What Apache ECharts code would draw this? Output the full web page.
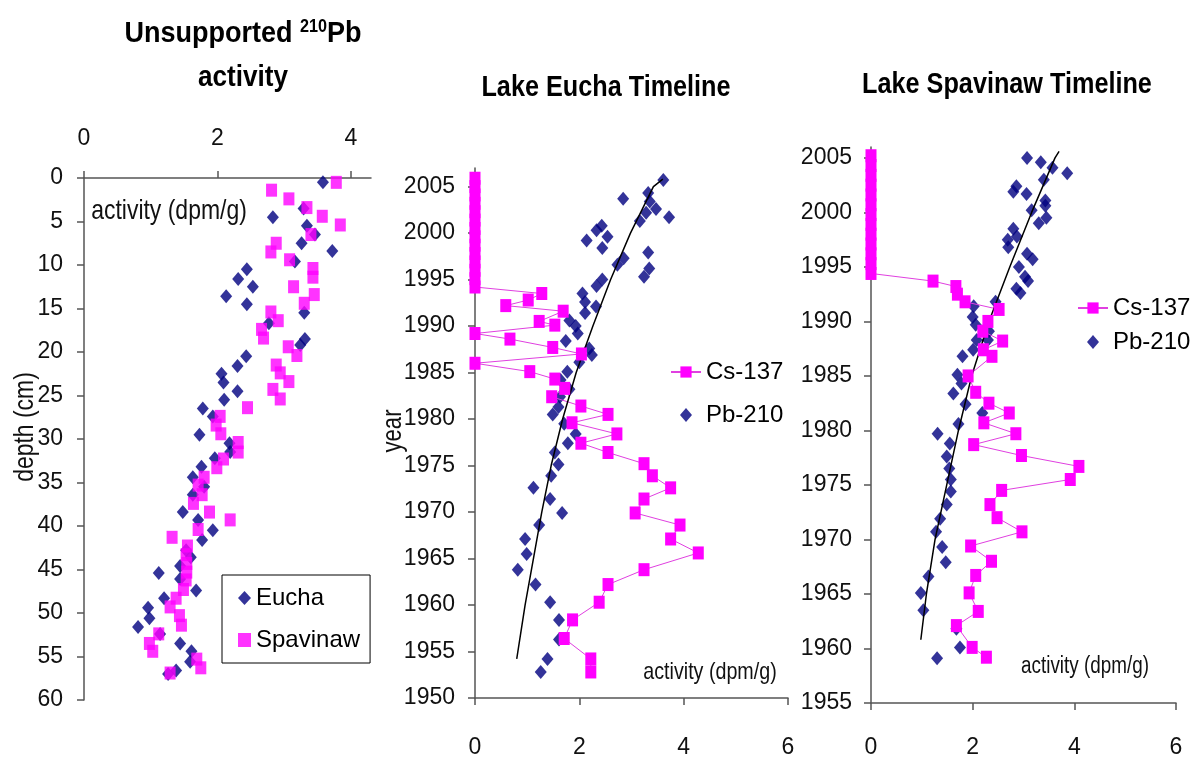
<!DOCTYPE html>
<html>
<head>
<meta charset="utf-8">
<title>Lake Eucha / Lake Spavinaw timelines</title>
<script src="https://cdn.jsdelivr.net/npm/echarts@6/dist/echarts.min.js"></script>
<style>
  html, body { margin: 0; padding: 0; background: #fff; }
  #chart { width: 1190px; height: 759px; }
</style>
</head>
<body>
<div id="chart"></div>
<script>
// panel 1: unsupported 210Pb activity (dpm/g) vs depth (cm)
const euchaDepth = [[3.58,0.5],[3.29,3.5],[2.83,4.5],[3.34,5.5],[3.46,6.5],[3.26,7.5],[3.72,8.4],[3.16,9.6],[2.44,10.5],[2.31,11.6],[2.53,12.5],[2.13,13.6],[2.44,14.5],[3.30,15.5],[2.77,16.7],[3.31,18.5],[3.24,19.2],[2.43,20.5],[2.30,21.6],[2.06,22.5],[2.09,23.5],[2.30,24.5],[2.10,25.5],[1.78,26.5],[1.93,27.4],[1.73,29.5],[2.18,30.5],[2.19,31.5],[1.96,32.2],[1.76,33.2],[1.63,34.4],[1.80,35.5],[1.63,36.4],[1.48,38.4],[1.71,39.3],[1.93,40.5],[1.77,41.6],[1.53,42.8],[1.60,43.6],[1.44,44.6],[1.12,45.4],[1.44,46.1],[1.68,47.4],[1.20,48.3],[0.96,49.4],[0.98,50.6],[0.81,51.6],[1.14,52.4],[1.44,53.5],[1.61,54.4],[1.59,55.6],[1.38,56.6],[1.26,57.0]];
const spavinawDepth = [[3.78,0.5],[2.81,1.4],[3.07,2.4],[3.34,3.4],[3.57,4.4],[3.84,5.4],[3.40,6.5],[2.88,7.5],[2.80,8.5],[3.08,9.4],[3.43,10.4],[3.43,11.4],[3.14,12.5],[3.45,13.4],[3.30,14.4],[2.80,15.4],[2.91,16.4],[2.66,17.4],[2.69,18.4],[3.06,19.4],[3.19,20.4],[2.88,21.5],[2.94,22.4],[3.07,23.4],[2.83,24.3],[2.94,25.4],[2.45,26.4],[2.04,27.4],[1.98,28.4],[2.05,29.4],[2.31,30.4],[2.31,31.5],[2.09,32.3],[1.99,33.3],[1.80,34.4],[1.71,35.3],[1.77,36.4],[1.64,37.4],[1.88,38.4],[2.19,39.3],[1.71,40.4],[1.32,41.3],[1.55,42.3],[1.53,43.3],[1.54,44.3],[1.54,45.3],[1.53,46.2],[1.49,47.3],[1.38,48.3],[1.29,49.3],[1.43,50.3],[1.46,51.4],[1.12,52.4],[0.98,53.5],[1.03,54.4],[1.69,55.3],[1.75,56.3],[1.29,56.9]];

// panel 2: Lake Eucha, [activity, year]
const euchaCs = [[0,2005.9],[0,2005.0],[0,2004.1],[0,2003.2],[0,2002.3],[0,2001.4],[0,2000.5],[0,1999.6],[0,1998.7],[0,1997.8],[0,1996.9],[0,1996.0],[0,1995.1],[0,1994.2],[1.28,1993.5],[1.02,1992.8],[0.59,1992.2],[1.69,1991.6],[1.23,1990.5],[1.53,1990.1],[0,1989.2],[0.67,1988.6],[1.49,1987.7],[2.04,1987.0],[0,1986.0],[1.05,1985.1],[1.53,1984.3],[1.72,1983.3],[1.47,1982.4],[2.03,1981.4],[2.55,1980.5],[1.86,1979.6],[2.72,1978.4],[2.03,1977.4],[2.55,1976.4],[3.24,1975.2],[3.40,1973.9],[3.75,1972.6],[3.24,1971.4],[3.07,1969.9],[3.93,1968.6],[3.75,1967.1],[4.28,1965.6],[3.24,1963.8],[2.55,1962.2],[2.38,1960.3],[1.87,1958.4],[1.71,1956.4],[2.22,1954.2],[2.22,1952.8]];
const euchaPb = [[3.61,2005.7],[3.32,2004.3],[2.84,2003.7],[3.35,2003.4],[3.47,2002.6],[3.28,2002.2],[3.72,2001.7],[3.16,2001.3],[2.43,2000.8],[2.33,2000.3],[2.54,1999.6],[2.14,1999.2],[2.44,1998.4],[3.32,1997.9],[2.85,1997.3],[2.73,1996.6],[3.34,1996.2],[3.24,1995.3],[2.44,1995.0],[2.33,1994.3],[2.06,1993.5],[2.11,1992.6],[2.32,1992.1],[2.11,1991.4],[1.81,1990.6],[1.93,1990.0],[1.97,1989.2],[1.74,1988.4],[2.19,1987.6],[2.24,1986.9],[2.00,1986.1],[1.77,1985.1],[1.64,1984.2],[1.81,1983.2],[1.63,1982.4],[1.60,1981.3],[1.49,1980.5],[1.71,1979.5],[1.93,1978.4],[1.78,1977.4],[1.53,1976.4],[1.60,1975.1],[1.46,1973.9],[1.12,1972.6],[1.44,1971.4],[1.67,1969.9],[1.23,1968.6],[0.96,1967.1],[0.99,1965.5],[0.82,1963.8],[1.16,1962.2],[1.44,1960.3],[1.61,1958.4],[1.61,1956.3],[1.39,1954.2],[1.26,1952.8]];
const euchaFit = [[0.80,1954.2],[0.96,1960],[1.12,1965],[1.28,1970],[1.46,1975],[1.68,1980],[1.94,1985],[2.26,1990],[2.60,1995],[2.98,2000],[3.42,2005],[3.60,2005.8]];

// panel 3: Lake Spavinaw, [activity, year]
const spavinawCs = [[0,2005.2],[0,2004.3],[0,2003.4],[0,2002.5],[0,2001.6],[0,2000.7],[0,1999.8],[0,1998.9],[0,1998.0],[0,1997.1],[0,1996.2],[0,1995.3],[0,1994.4],[1.22,1993.7],[1.67,1993.2],[1.70,1992.5],[1.85,1991.8],[2.52,1991.1],[2.30,1990.0],[2.20,1989.1],[2.59,1988.2],[2.21,1987.4],[2.38,1986.8],[1.91,1985.0],[2.06,1983.5],[2.32,1982.5],[2.72,1981.6],[2.22,1980.7],[2.85,1979.7],[2.02,1978.7],[2.96,1977.7],[4.09,1976.7],[3.92,1975.5],[2.57,1974.5],[2.34,1973.2],[2.48,1972.0],[2.97,1970.7],[1.96,1969.4],[2.37,1968.0],[2.06,1966.7],[1.93,1965.1],[2.11,1963.4],[1.68,1962.1],[1.99,1960.1],[2.27,1959.2]];
const spavinawPb = [[3.07,2005.0],[3.34,2004.6],[3.57,2004.1],[3.86,2003.6],[3.40,2003.0],[2.86,2002.4],[2.80,2001.9],[3.06,2001.7],[3.43,2001.1],[3.43,2000.6],[3.16,2000.2],[3.45,1999.5],[3.30,1999.0],[2.80,1998.5],[2.87,1997.8],[2.69,1997.5],[2.70,1996.8],[3.07,1996.2],[3.18,1995.7],[2.91,1995.0],[3.03,1994.1],[3.09,1993.7],[2.86,1993.0],[2.94,1992.6],[2.45,1991.8],[2.02,1991.4],[2.00,1990.4],[2.06,1989.7],[2.32,1989.1],[2.30,1988.3],[2.08,1988.3],[2.01,1987.4],[1.80,1986.8],[1.70,1985.1],[1.78,1984.3],[1.62,1983.4],[1.86,1982.4],[2.19,1981.6],[1.72,1980.6],[1.31,1979.7],[1.55,1978.8],[1.49,1977.6],[1.54,1976.5],[1.57,1975.5],[1.57,1974.4],[1.49,1973.2],[1.36,1971.9],[1.28,1970.7],[1.40,1969.3],[1.47,1967.9],[1.13,1966.6],[0.98,1965.1],[1.03,1963.5],[1.68,1961.8],[1.75,1960.1],[1.30,1959.1]];
const spavinawFit = [[0.98,1960.8],[1.09,1965],[1.26,1970],[1.49,1975],[1.72,1980],[1.98,1985],[2.32,1990],[2.73,1995],[3.16,2000],[3.62,2005],[3.70,2005.6]];

// tick labels
const depthActivityTicks = [0, 2, 4];
const timelineActivityTicks = [0, 2, 4, 6];
const euchaYearTicks = [1950, 1955, 1960, 1965, 1970, 1975, 1980, 1985, 1990, 1995, 2000, 2005];
const spavinawYearTicks = [1955, 1960, 1965, 1970, 1975, 1980, 1985, 1990, 1995, 2000, 2005];

// no narrow font installed: Liberation Sans (Arial metrics), squeezed where we can
const FONT = "'Liberation Sans', Arial, sans-serif";
const SQUEEZE = 0.82;
const NAVY = '#000080';
const PINK = '#ff00ff';
const AXIS = '#555';
// diamond inside a 30x14 box so the legend doesn't stretch it
const LEGEND_DIAMOND = 'path://M0,0M30,14M15,0L21,7L15,14L9,7Z';

function axis(gridIndex, opts) {
    return Object.assign({
        gridIndex: gridIndex,
        type: 'value',
        splitLine: { show: false },
        axisLine: { show: true, onZero: false, lineStyle: { color: AXIS, width: 1.5 } },
        axisTick: { show: true, length: 7, lineStyle: { color: AXIS, width: 1.5 } },
        axisLabel: { color: '#111', fontSize: 23, fontFamily: FONT, formatter: v => String(v) }
    }, opts);
}

function withTicks(ax, values, margin) {
    ax.axisTick.customValues = values;
    ax.axisLabel.customValues = values;
    ax.axisLabel.margin = margin;
    return ax;
}

// text drawn as graphic, narrowed horizontally to look like Arial Narrow
function label(x, y, text, size, opts) {
    return Object.assign({
        type: 'text', x: x, y: y, scaleX: SQUEEZE,
        style: { text: text, font: size + 'px ' + FONT, align: 'center', verticalAlign: 'middle', fill: '#111' }
    }, opts);
}

function heading(x, y, text, squeeze) {
    return {
        type: 'text', x: x, y: y, scaleX: squeeze,
        style: { text: text, font: 'bold 29px ' + FONT, align: 'center', verticalAlign: 'middle', fill: '#000' }
    };
}

const chart = echarts.init(document.getElementById('chart'));

chart.setOption({
    animation: false,
    backgroundColor: '#fff',
    grid: [
        { left: 84, top: 178, width: 287, height: 522 },
        { left: 475, top: 168, width: 313, height: 531 },
        { left: 871, top: 147, width: 305, height: 556 }
    ],
    xAxis: [
        withTicks(axis(0, { position: 'top', min: 0, max: 4.3, interval: 2 }), depthActivityTicks, 28),
        withTicks(axis(1, { min: 0, max: 6, interval: 2 }), timelineActivityTicks, 38),
        withTicks(axis(2, { min: 0, max: 6, interval: 2 }), timelineActivityTicks, 33)
    ],
    yAxis: [
        (() => { const a = axis(0, { min: 0, max: 60, interval: 5, inverse: true }); a.axisLabel.margin = 21; return a; })(),
        withTicks(axis(1, { min: 1950, max: 2007, interval: 5 }), euchaYearTicks, 20),
        withTicks(axis(2, { min: 1955, max: 2006, interval: 5 }), spavinawYearTicks, 19)
    ],
    legend: [
        {
            data: [{ name: 'Eucha', icon: 'diamond' }, { name: 'Spavinaw', icon: 'rect' }],
            orient: 'vertical', left: 222, top: 575, selectedMode: false,
            borderColor: '#000', borderWidth: 1, padding: [11, 10, 11, 16],
            itemGap: 18, itemWidth: 13, itemHeight: 14,
            textStyle: { fontSize: 24, fontFamily: FONT, color: '#000' }
        },
        {
            data: ['Cs-137', { name: 'Pb-210', icon: LEGEND_DIAMOND }],
            orient: 'vertical', left: 670, top: 360, selectedMode: false, padding: 0,
            itemGap: 19, itemWidth: 30, itemHeight: 14,
            textStyle: { fontSize: 24, fontFamily: FONT, color: '#000' }
        },
        {
            data: ['Cs-137', { name: 'Pb-210', icon: LEGEND_DIAMOND }],
            orient: 'vertical', left: 1077, top: 296, selectedMode: false, padding: 0,
            itemGap: 10, itemWidth: 30, itemHeight: 14,
            textStyle: { fontSize: 24, fontFamily: FONT, color: '#000' }
        }
    ],
    graphic: [
        {
            type: 'text', x: 243, y: 34, scaleX: 0.9,
            style: {
                text: '{b|Unsupported }{sup|210}{b|Pb}',
                align: 'center', verticalAlign: 'middle', fill: '#000',
                rich: {
                    b: { fontSize: 30, fontWeight: 'bold', fontFamily: FONT, fill: '#000' },
                    sup: { fontSize: 18, fontWeight: 'bold', fontFamily: FONT, fill: '#000', padding: [0, 0, 13, 0] }
                }
            }
        },
        heading(243, 78, 'activity', 0.9),
        heading(606, 88, 'Lake Eucha Timeline', 0.87),
        heading(1007, 85, 'Lake Spavinaw Timeline', 0.87),
        label(169, 211, 'activity (dpm/g)', 28),
        label(710, 672, 'activity (dpm/g)', 24),
        label(1085, 667, 'activity (dpm/g)', 23),
        label(25, 427, 'depth (cm)', 28, { rotation: Math.PI / 2 }),
        label(394, 431, 'year', 27, { rotation: Math.PI / 2 })
    ],
    series: [
        {
            name: 'Eucha', type: 'scatter', xAxisIndex: 0, yAxisIndex: 0,
            symbol: 'diamond', symbolSize: [12, 14], itemStyle: { color: NAVY },
            data: euchaDepth
        },
        {
            name: 'Spavinaw', type: 'scatter', xAxisIndex: 0, yAxisIndex: 0,
            symbol: 'rect', symbolSize: [11, 13], itemStyle: { color: PINK },
            data: spavinawDepth
        },
        {
            name: 'Cs-137', type: 'line', xAxisIndex: 1, yAxisIndex: 1,
            symbol: 'rect', symbolSize: [11, 13], showAllSymbol: true,
            itemStyle: { color: PINK }, lineStyle: { color: '#e040e0', width: 1 },
            data: euchaCs
        },
        {
            name: 'Pb-210', type: 'scatter', xAxisIndex: 1, yAxisIndex: 1,
            symbol: 'diamond', symbolSize: [12, 14], itemStyle: { color: NAVY },
            data: euchaPb
        },
        {
            name: 'Eucha fit', type: 'line', xAxisIndex: 1, yAxisIndex: 1,
            symbol: 'none', lineStyle: { color: '#000', width: 1.5 },
            data: euchaFit
        },
        {
            name: 'Cs-137', type: 'line', xAxisIndex: 2, yAxisIndex: 2,
            symbol: 'rect', symbolSize: [11, 13], showAllSymbol: true,
            itemStyle: { color: PINK }, lineStyle: { color: '#e040e0', width: 1 },
            data: spavinawCs
        },
        {
            name: 'Pb-210', type: 'scatter', xAxisIndex: 2, yAxisIndex: 2,
            symbol: 'diamond', symbolSize: [12, 14], itemStyle: { color: NAVY },
            data: spavinawPb
        },
        {
            name: 'Spavinaw fit', type: 'line', xAxisIndex: 2, yAxisIndex: 2,
            symbol: 'none', lineStyle: { color: '#000', width: 1.5 },
            data: spavinawFit
        }
    ]
});
</script>
</body>
</html>
